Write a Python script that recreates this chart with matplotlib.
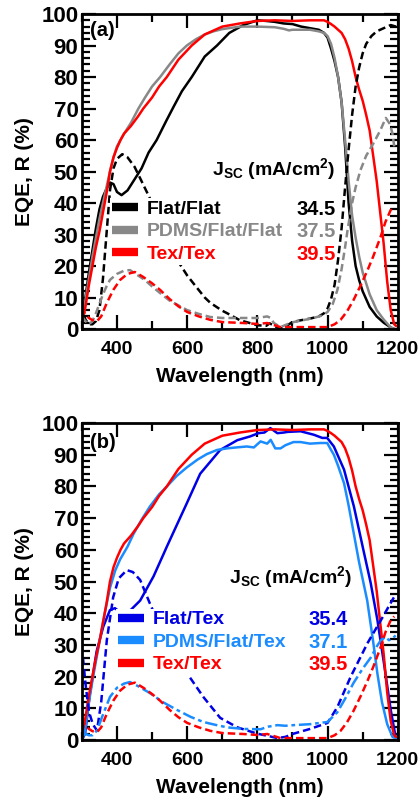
import matplotlib
matplotlib.use("Agg")
import matplotlib.pyplot as plt
from matplotlib.lines import Line2D
from matplotlib.ticker import MultipleLocator

plt.rcParams['font.family'] = ['Liberation Sans', 'DejaVu Sans']
plt.rcParams['font.weight'] = 'bold'
plt.rcParams['mathtext.fontset'] = 'custom'
plt.rcParams['mathtext.rm'] = 'Liberation Sans:bold'
plt.rcParams['mathtext.bf'] = 'Liberation Sans:bold'
plt.rcParams['mathtext.it'] = 'Liberation Sans:bold'

# ---------------- data: panel (a) ----------------
# EQE Flat/Flat (black solid)
wl_eqe_ff = [300, 310, 320, 330, 340, 350, 360, 370, 380, 390, 400, 413, 430, 450, 470, 490, 513, 540,
             561, 585, 613, 650, 685, 720, 760, 800, 825, 850, 875, 900, 925, 950, 975, 990, 1000,
             1010, 1020, 1030, 1040, 1050, 1060, 1070, 1080, 1090, 1100, 1120, 1140, 1160, 1180, 1190]
eqe_ff = [3, 10, 18, 25, 32, 38, 42, 44.5, 46.5, 46, 43.5, 42.5, 44, 47.5, 51, 56, 60, 66,
          70.5, 75.5, 80, 86.5, 90, 94, 96.5, 98, 97.8, 97.5, 97, 96.8, 96, 95.5, 95, 94, 92.5,
          89, 85, 80, 72, 58, 40, 28, 20, 15.5, 12, 7, 4, 2, 0.5, 0]
# EQE PDMS/Flat/Flat (gray solid)
wl_eqe_pff = [300, 310, 320, 330, 340, 350, 360, 370, 380, 390, 400, 410, 420, 440, 461, 480, 500, 523,
              550, 575, 599, 625, 650, 675, 700, 750, 800, 850, 875, 890, 900, 950, 975, 990, 1000,
              1010, 1020, 1030, 1040, 1050, 1060, 1070, 1080, 1090, 1100, 1120, 1140, 1160, 1180, 1190]
eqe_pff = [4, 9, 16, 23, 29, 35, 40, 45, 50, 54.5, 58, 60, 62, 65.5, 70, 73.5, 77, 80,
           84, 87.5, 90, 92, 93.5, 94.5, 95.2, 96, 96, 95.8, 95.3, 94.8, 95, 95, 94.5, 94, 93,
           90.5, 86, 80, 72, 60, 47, 36, 29, 23, 18, 11, 6, 3, 0.5, 0]
# EQE Tex/Tex (red solid)
wl_eqe_tt = [300, 310, 320, 330, 340, 350, 360, 370, 380, 390, 400, 410, 420, 440, 460, 475, 500, 520,
             542, 575, 613, 650, 700, 750, 800, 850, 900, 950, 990, 1000, 1010, 1020, 1030, 1040,
             1050, 1060, 1070, 1080, 1090, 1100, 1110, 1120, 1130, 1140, 1150, 1160, 1170, 1180,
             1190, 1195]
eqe_tt = [2, 7, 14, 20, 26, 31, 37, 43, 50, 54.5, 57.5, 60, 62, 64.5, 67.5, 70, 73.5, 77,
          80, 85.5, 90, 93.5, 96, 97, 97.8, 98, 97.8, 98, 98, 97.5, 96.8, 96, 95, 94,
          92, 89, 85, 80, 76, 72.5, 68, 63, 55, 47, 37, 27, 15, 6, 1.5, 1]
# R Flat/Flat (black dashed)
wl_r_ff = [300, 305, 310, 320, 330, 340, 350, 360, 370, 380, 390, 400, 415, 430, 450, 485, 500, 525,
           550, 571, 600, 617, 650, 666, 700, 714, 750, 775, 800, 825, 835, 845, 860, 875, 890,
           900, 925, 950, 975, 990, 1000, 1010, 1020, 1030, 1040, 1050, 1060, 1070, 1080, 1090,
           1100, 1110, 1125, 1140, 1160, 1180, 1195]
r_ff = [8, 5, 3, 1.5, 1.5, 2.5, 6, 16, 30, 44, 51, 54, 55.5, 54.5, 51.5, 43.5, 40, 33.5,
        27, 22, 17, 14.6, 10, 8.3, 5.8, 5, 2.8, 2, 1.2, 1, 1.8, 1.2, 0.3, 0.2, 1.5,
        2.2, 2.8, 3.3, 4, 5, 6.5, 9.5, 14, 22, 32, 45, 57, 68, 77, 83,
        87.5, 90.5, 93, 94.5, 95.5, 96.5, 96]
# R PDMS/Flat/Flat (gray dashed)
wl_r_pff = [300, 310, 320, 330, 340, 350, 360, 370, 380, 400, 420, 437, 460, 480, 500, 523, 550, 575,
            600, 633, 666, 700, 760, 800, 828, 838, 847, 866, 885, 903, 930, 960, 985, 1000, 1015,
            1028, 1040, 1050, 1057, 1070, 1080, 1094, 1110, 1131, 1150, 1166, 1178, 1185, 1190]
r_pff = [4, 2.5, 1.5, 2.5, 5, 8, 11, 13.5, 15.6, 17.5, 18.5, 18.7, 17, 15.5, 13.5, 11.4, 9, 7.5,
         6, 4.8, 3.8, 3.5, 3.5, 3.5, 4, 3.5, 1.9, 0.6, 1.5, 2.2, 2.8, 3.5, 4.3, 5.4, 8,
         12.4, 19, 26, 31.4, 40, 45, 50.5, 55, 59, 63, 67, 65, 62, 58]
# R Tex/Tex (red dashed)
wl_r_tt = [300, 310, 320, 330, 343, 355, 371, 390, 409, 430, 451, 475, 500, 523, 550, 575, 600, 633,
           666, 700, 760, 800, 828, 840, 866, 900, 950, 1000, 1020, 1037, 1055, 1074, 1095, 1114,
           1130, 1151, 1165, 1180, 1190]
r_tt = [7, 4.5, 3.5, 2.8, 2.5, 4, 8.3, 12.5, 15.6, 17.5, 18.1, 16.5, 14.5, 12.4, 9.5, 7.2, 5.4, 4,
        2.9, 2.2, 1.9, 1.6, 1.9, 1.5, 0.6, 0.6, 0.6, 0.6, 1.5, 2.9, 5.5, 9.2, 14, 18.7,
        23, 29.2, 34, 37.8, 39]

# ---------------- data: panel (b) ----------------
# EQE Flat/Tex (blue solid)
wl_eqe_ft = [300, 309, 323, 342, 361, 380, 394, 413, 437, 466, 504, 532, 542, 599, 637, 694, 743,
             780, 803, 820, 837, 857, 875, 886, 923, 961, 985, 999, 1018, 1047, 1075, 1104, 1123,
             1142, 1161, 1180, 1194]
eqe_ft = [0, 2, 14.7, 28, 35.8, 41, 41.6, 40, 40.8, 44, 51.6, 58.5, 61, 74.7, 84, 91.5, 94.6,
          95.8, 96.8, 97, 98.4, 96.8, 97, 97.2, 97.4, 96.3, 95.3, 95.3, 92.6, 85.3, 73.7, 59, 49.5,
          37.9, 24, 9.5, 1]
# EQE PDMS/Flat/Tex (light blue solid)
wl_eqe_pft = [300, 309, 320, 332, 351, 365, 380, 395, 409, 430, 447, 470, 494, 520, 542, 570, 599,
              630, 656, 685, 713, 740, 770, 790, 809, 828, 838, 851, 866, 880, 903, 923, 950, 980,
              999, 1010, 1018, 1030, 1047, 1060, 1075, 1090, 1113, 1130, 1142, 1155, 1170, 1185, 1194]
eqe_pft = [0, 3, 12, 20, 31.6, 40, 48, 53.5, 57, 61, 65, 69.5, 73.7, 77.5, 80, 83.3, 86,
           88.5, 90.2, 91.5, 92, 92.3, 92.6, 92.3, 94.2, 93.5, 94.7, 92, 92, 93, 94, 94, 93.5, 93.7,
           93.7, 91.5, 90, 86.5, 81, 74, 65, 56, 44, 31, 21, 12, 5, 1, 0.5]
# R Flat/Tex (blue dashed)
wl_r_ft = [303, 310, 320, 331, 343, 355, 371, 389, 405, 428, 445, 466, 494, 530, 560, 600, 646,
           694, 743, 800, 830, 857, 880, 903, 950, 1000, 1028, 1066, 1114, 1152, 1189]
r_ft = [26, 18, 9, 5, 3, 12, 31.5, 45, 51, 53.6, 53, 50.5, 43, 34, 27, 21, 13.6,
        7, 4, 2, 1.3, 0.6, 1, 2, 3.5, 5.4, 10.4, 20, 30.6, 37.8, 45]
# R PDMS/Flat/Tex (light blue dash-dot)
wl_r_pft = [300, 309, 320, 330, 343, 360, 380, 400, 420, 437, 460, 494, 530, 571, 610, 646, 680,
            714, 760, 809, 830, 857, 880, 903, 950, 1000, 1028, 1050, 1074, 1100, 1123, 1140,
            1152, 1165, 1175, 1185, 1194]
r_pft = [1, 2, 1.5, 1.5, 3, 8, 13.6, 16.5, 17.8, 18.3, 17, 14.8, 12, 9.5, 7.3, 5.7, 4.8,
         4, 3.5, 3.4, 4.2, 4.7, 4.5, 4.7, 5, 5.7, 8.8, 13, 18, 22.5, 26, 29.5,
         31.5, 32.5, 31.5, 32, 33]

labels_a = ['Flat/Flat', 'PDMS/Flat/Flat', 'Tex/Tex']
jsc_a = ['34.5', '37.5', '39.5']
labels_b = ['Flat/Tex', 'PDMS/Flat/Tex', 'Tex/Tex']
jsc_b = ['35.4', '37.1', '39.5']

x_ticks = [400, 600, 800, 1000, 1200]
y_ticks = [0, 10, 20, 30, 40, 50, 60, 70, 80, 90, 100]

BLACK = '#000000'
GRAY = '#888888'
RED = '#ff0000'
BLUE = '#0000e6'
LBLUE = '#1a8cff'

fig = plt.figure(figsize=(4.2, 8.05), dpi=100)
ax_a = fig.add_axes([0.195, 0.5913, 0.752, 0.3913])
ax_b = fig.add_axes([0.195, 0.0807, 0.752, 0.3938])

LW = 1.8
DASH = (3, 1.6)
DASHDOT = (5, 1.5, 1.5, 1.5)

# panel a
ax_a.plot(wl_eqe_ff, eqe_ff, color=BLACK, lw=LW)
ax_a.plot(wl_eqe_pff, eqe_pff, color=GRAY, lw=LW)
ax_a.plot(wl_eqe_tt, eqe_tt, color=RED, lw=LW)
ax_a.plot(wl_r_ff, r_ff, color=BLACK, lw=LW, dashes=DASH)
ax_a.plot(wl_r_pff, r_pff, color=GRAY, lw=LW, dashes=DASH)
ax_a.plot(wl_r_tt, r_tt, color=RED, lw=LW, dashes=DASH)

# panel b
ax_b.plot(wl_eqe_ft, eqe_ft, color=BLUE, lw=LW)
ax_b.plot(wl_eqe_pft, eqe_pft, color=LBLUE, lw=LW)
ax_b.plot(wl_eqe_tt, eqe_tt, color=RED, lw=LW)
ax_b.plot(wl_r_ft, r_ft, color=BLUE, lw=LW, dashes=DASH)
ax_b.plot(wl_r_pft, r_pft, color=LBLUE, lw=LW, dashes=DASHDOT)
ax_b.plot(wl_r_tt, r_tt, color=RED, lw=LW, dashes=DASH)


def style(ax, tag, tag_y):
    ax.set_xlim(300, 1200)
    ax.set_ylim(0, 100)
    ax.set_xticks(x_ticks)
    ax.set_yticks(y_ticks)
    ax.xaxis.set_minor_locator(MultipleLocator(100))
    ax.yaxis.set_minor_locator(MultipleLocator(2))
    ax.tick_params(which='both', direction='in', top=True, right=True, width=1.6)
    ax.tick_params(which='major', length=10)
    ax.tick_params(which='minor', length=5.5)
    ax.tick_params(axis='x', which='major', labelsize=14, pad=8.5)
    ax.tick_params(axis='y', which='major', labelsize=16, pad=2.5)
    for s in ax.spines.values():
        s.set_linewidth(2.0)
    ax.set_xlabel('Wavelength (nm)', fontsize=15, fontweight='bold', labelpad=6.5)
    ax.set_ylabel('EQE, R (%)', fontsize=15, fontweight='bold', labelpad=5)
    ax.text(0.026, tag_y, tag, transform=ax.transAxes, fontsize=14.5, fontweight='bold',
            va='center', ha='left')


style(ax_a, '(a)', 0.949)
style(ax_b, '(b)', 0.94)


def make_legend(ax, names, colors, values, x0, ymid, xval, xhead, yhead):
    handles = [Line2D([], [], color=c, lw=6, solid_capstyle='butt') for c in colors]
    leg = ax.legend(handles, names, loc='center left', bbox_to_anchor=(x0, ymid),
                    frameon=True, facecolor='white', edgecolor='none', framealpha=1,
                    fancybox=False, borderpad=0.1, borderaxespad=0, handlelength=1.35,
                    handletextpad=0.45, labelspacing=0.25, fontsize=14)
    for t, c in zip(leg.get_texts(), colors):
        t.set_color(c)
    fig.canvas.draw()
    inv = ax.transAxes.inverted()
    for t, c, v in zip(leg.get_texts(), colors, values):
        bb = t.get_window_extent()
        yc = inv.transform((0, (bb.y0 + bb.y1) / 2))[1]
        ax.text(xval, yc, v, transform=ax.transAxes, ha='right', va='center',
                fontsize=14.5, fontweight='bold', color=c)
    ax.text(xhead, yhead, r'J$_{\rm SC}$ (mA/cm$^{\rm 2}$)', transform=ax.transAxes,
            ha='left', va='baseline', fontsize=14, fontweight='bold', color='black')


make_legend(ax_a, labels_a, [BLACK, GRAY, RED], jsc_a, 0.089, 0.309, 0.804, 0.411, 0.489)
make_legend(ax_b, labels_b, [BLUE, LBLUE, RED], jsc_b, 0.108, 0.309, 0.842, 0.465, 0.495)

fig.savefig('out.png', dpi=100)
